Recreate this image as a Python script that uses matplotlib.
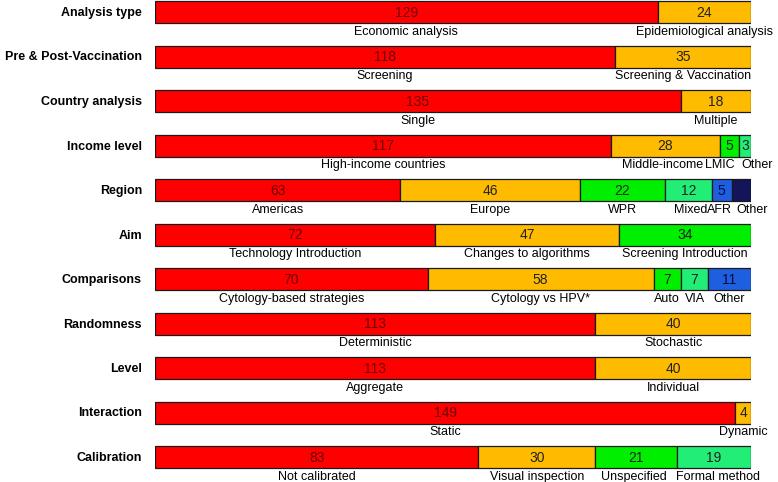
import matplotlib.pyplot as plt

plt.rcParams['font.family'] = ['Liberation Sans', 'DejaVu Sans']

# rows of the chart (top to bottom)
categories = ['Analysis type', 'Pre & Post-Vaccination', 'Country analysis', 'Income level',
              'Region', 'Aim', 'Comparisons', 'Randomness', 'Level', 'Interaction', 'Calibration']

values = [
    [129, 24],
    [118, 35],
    [135, 18],
    [117, 28, 5, 3],
    [63, 46, 22, 12, 5, 5],
    [72, 47, 34],
    [70, 58, 7, 7, 11],
    [113, 40],
    [113, 40],
    [149, 4],
    [83, 30, 21, 19],
]

seg_labels = [
    ['Economic analysis', 'Epidemiological analysis'],
    ['Screening', 'Screening & Vaccination'],
    ['Single', 'Multiple'],
    ['High-income countries', 'Middle-income', 'LMIC', 'Other'],
    ['Americas', 'Europe', 'WPR', 'Mixed', 'AFR', 'Other'],
    ['Technology Introduction', 'Changes to algorithms', 'Screening Introduction'],
    ['Cytology-based strategies', 'Cytology vs HPV*', 'Auto', 'VIA', 'Other'],
    ['Deterministic', 'Stochastic'],
    ['Aggregate', 'Individual'],
    ['Static', 'Dynamic'],
    ['Not calibrated', 'Visual inspection', 'Unspecified', 'Formal method'],
]

# fill colour by position in the row
palette = ['#ff0000', '#ffbb00', '#00ee00', '#22ee77', '#1e5fe0', '#14145a']
num_colors = ['#6a0000', '#222222', '#222222', '#222222', '#0a0a40', '#14145a']

# small horizontal nudges (in data units) for crowded labels
nudges = {(3, 1): -0.8, (3, 2): -2.4, (3, 3): 3.0,
          (4, 3): 0.6, (4, 4): -0.5, (4, 5): 2.8,
          (10, 2): -0.5, (10, 3): 1.0}

fig = plt.figure(figsize=(7.78, 4.82), dpi=100)
ax = fig.add_axes([155 / 778, 0, 596 / 778, 1])
ax.set_xlim(0, 153)
ax.set_ylim(10 + 25 / 44.5, -12 / 44.5)
ax.axis('off')

bh = 22 / 44.5
for i, (cat, vals, labs) in enumerate(zip(categories, values, seg_labels)):
    left = 0
    for j, (v, lab) in enumerate(zip(vals, labs)):
        ax.barh(i, v, left=left, height=bh, color=palette[j],
                edgecolor='#1a1a1a', linewidth=0.9)
        cx = left + v / 2
        ax.text(cx, i + 0.02, str(v), ha='center', va='center',
                fontsize=10, color=num_colors[j])
        ax.text(cx + nudges.get((i, j), 0), i + bh / 2 + 0.06, lab,
                ha='center', va='top', fontsize=9, color='black')
        left += v
    fig.text(142 / 778, 1 - (13 + 44.5 * i) / 482, cat, ha='right', va='center',
             fontsize=9, fontweight='bold')

fig.savefig('out.png', dpi=100)
